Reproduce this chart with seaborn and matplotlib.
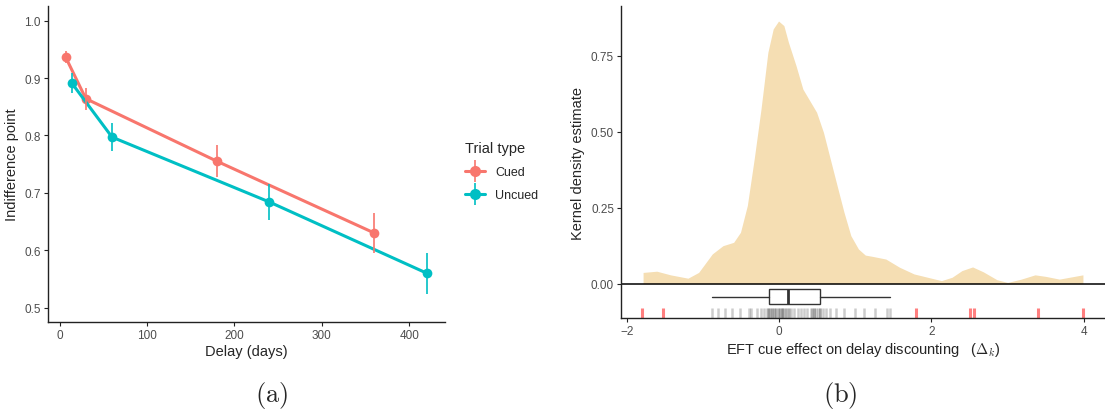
import matplotlib
matplotlib.use("Agg")
from matplotlib import pyplot as plt
from matplotlib.lines import Line2D
from matplotlib.ticker import FormatStrFormatter
import seaborn as sns
import numpy as np
import pandas as pd

# panel (a): indifference points per delay
cued_delay = [7, 30, 180, 360]
cued_mean = [0.936, 0.864, 0.755, 0.630]
cued_lo = [0.927, 0.845, 0.727, 0.595]
cued_hi = [0.947, 0.883, 0.783, 0.665]

uncued_delay = [14, 60, 240, 420]
uncued_mean = [0.891, 0.797, 0.684, 0.560]
uncued_lo = [0.874, 0.772, 0.652, 0.524]
uncued_hi = [0.908, 0.822, 0.716, 0.595]

trial_types = ["Cued", "Uncued"]

# panel (b): density curve
density_x = [-1.79, -1.61, -1.43, -1.20, -1.06, -0.88, -0.74, -0.60, -0.51, -0.42,
             -0.33, -0.24, -0.15, -0.08, -0.01, 0.06, 0.12, 0.22, 0.31, 0.40,
             0.49, 0.58, 0.67, 0.76, 0.85, 0.94, 1.04, 1.13, 1.22, 1.40,
             1.58, 1.77, 1.95, 2.13, 2.27, 2.40, 2.54, 2.68, 2.86, 3.00,
             3.18, 3.36, 3.50, 3.68, 3.99]
density_y = [0.037, 0.041, 0.029, 0.018, 0.037, 0.098, 0.125, 0.136, 0.169, 0.257,
             0.410, 0.575, 0.761, 0.838, 0.864, 0.849, 0.794, 0.717, 0.640, 0.602,
             0.564, 0.498, 0.410, 0.322, 0.235, 0.158, 0.114, 0.094, 0.090, 0.081,
             0.054, 0.032, 0.021, 0.010, 0.021, 0.043, 0.055, 0.039, 0.013, 0.004,
             0.015, 0.029, 0.024, 0.015, 0.029]

# individual cue effects (rug) and box summary
inliers = [-0.89, -0.80, -0.71, -0.62, -0.52, -0.40, -0.37, -0.29, -0.24, -0.20,
           -0.16, -0.15, -0.13, -0.12, -0.10, -0.09, -0.07, -0.05, -0.04, -0.02,
           0.00, 0.01, 0.03, 0.04, 0.05, 0.08, 0.09, 0.11, 0.13, 0.15,
           0.19, 0.24, 0.28, 0.32, 0.37, 0.42, 0.43, 0.45, 0.46, 0.48,
           0.51, 0.53, 0.54, 0.57, 0.61, 0.67, 0.74, 0.85, 0.99, 1.11,
           1.26, 1.42, 1.46]
outliers = [-1.81, -1.53, 1.80, 2.51, 2.56, 3.40, 3.99]
box_q1, box_med, box_q3 = -0.13, 0.11, 0.53
box_lo, box_hi = -0.89, 1.46

colors = ["#F8766D", "#00BFC4"]
text_grey = "#4D4D4D"
axis_col = "#222222"

sns.set_theme(style="ticks")
plt.rcParams["font.family"] = ["Liberation Sans", "DejaVu Sans"]
plt.rcParams["mathtext.fontset"] = "cm"

df = pd.DataFrame({
    "delay": cued_delay + uncued_delay,
    "indiff": cued_mean + uncued_mean,
    "lo": cued_lo + uncued_lo,
    "hi": cued_hi + uncued_hi,
    "trial": [trial_types[0]] * len(cued_delay) + [trial_types[1]] * len(uncued_delay),
})

fig = plt.figure(figsize=(11.05, 4.14), dpi=100)
ax1 = fig.add_axes([0.0432, 0.220, 0.3595, 0.7624])
ax2 = fig.add_axes([0.562, 0.2287, 0.438, 0.7537])


def style_axis(ax):
    sns.despine(ax=ax)
    for s in ["left", "bottom"]:
        ax.spines[s].set_color(axis_col)
        ax.spines[s].set_linewidth(1.0)
    ax.tick_params(axis="both", length=3, width=0.8, color=axis_col,
                   labelsize=8.5, labelcolor=text_grey, pad=2)


# ---- panel (a)
sns.lineplot(data=df, x="delay", y="indiff", hue="trial", palette=colors,
             marker="o", markersize=7, markeredgewidth=0, linewidth=2.2,
             legend=False, ax=ax1)
for t, c in zip(trial_types, colors):
    sub = df[df.trial == t]
    ax1.vlines(sub.delay, sub.lo, sub.hi, color=c, linewidth=1.2)

ax1.set_xlim(-13.6, 441)
ax1.set_ylim(0.475, 1.025)
ax1.set_xticks([0, 100, 200, 300, 400])
ax1.set_yticks([0.5, 0.6, 0.7, 0.8, 0.9, 1.0])
ax1.yaxis.set_major_formatter(FormatStrFormatter("%.1f"))
ax1.set_xlabel("Delay (days)", fontsize=10.5, labelpad=2)
ax1.set_ylabel("Indifference point", fontsize=10.5, labelpad=4)
style_axis(ax1)

handles = []
for c in colors:
    handles.append((Line2D([], [], color=c, lw=2.2, marker="o", markersize=8, mew=0),
                    Line2D([], [], color=c, marker="|", markersize=16, mew=1.2, ls="none")))
leg = fig.legend(handles, trial_types, title="Trial type", loc="upper left",
                 bbox_to_anchor=(0.411, 0.685), frameon=False, fontsize=9,
                 title_fontsize=10.5, handlelength=1.6, handletextpad=0.8,
                 labelspacing=0.9, alignment="left")

# ---- panel (b)
ax2.fill_between(density_x, 0, density_y, color="wheat", linewidth=0)
ax2.axhline(0, color="black", linewidth=1.1)

stats = [{"med": box_med, "q1": box_q1, "q3": box_q3,
          "whislo": box_lo, "whishi": box_hi, "fliers": []}]
box_kw = dict(positions=[-0.043], widths=0.048, showcaps=False, showfliers=False,
              patch_artist=True, manage_ticks=False,
              boxprops=dict(facecolor="white", edgecolor="#333333", linewidth=1.0),
              whiskerprops=dict(color="#333333", linewidth=1.0),
              medianprops=dict(color="#333333", linewidth=2.0))
try:
    ax2.bxp(stats, orientation="horizontal", **box_kw)
except TypeError:
    ax2.bxp(stats, vert=False, **box_kw)

sns.rugplot(x=inliers, height=0.032, color="black", alpha=0.2, linewidth=1.8, ax=ax2)
sns.rugplot(x=outliers, height=0.032, color="red", alpha=0.5, linewidth=2.2, ax=ax2)

ax2.set_xlim(-2.08, 4.28)
ax2.set_ylim(-0.114, 0.9125)
ax2.set_xticks([-2, 0, 2, 4])
ax2.set_yticks([0, 0.25, 0.5, 0.75])
ax2.yaxis.set_major_formatter(FormatStrFormatter("%.2f"))
ax2.set_xlabel("EFT cue effect on delay discounting   ($\\Delta_k$)", fontsize=10.5, labelpad=2)
ax2.set_ylabel("Kernel density estimate", fontsize=10.5, labelpad=4)
style_axis(ax2)

# sub-figure captions
fig.text(0.246, 0.045, "$(\\mathrm{a})$", ha="center", va="center", fontsize=19)
fig.text(0.760, 0.045, "$(\\mathrm{b})$", ha="center", va="center", fontsize=19)

fig.savefig("out.png", dpi=100)
